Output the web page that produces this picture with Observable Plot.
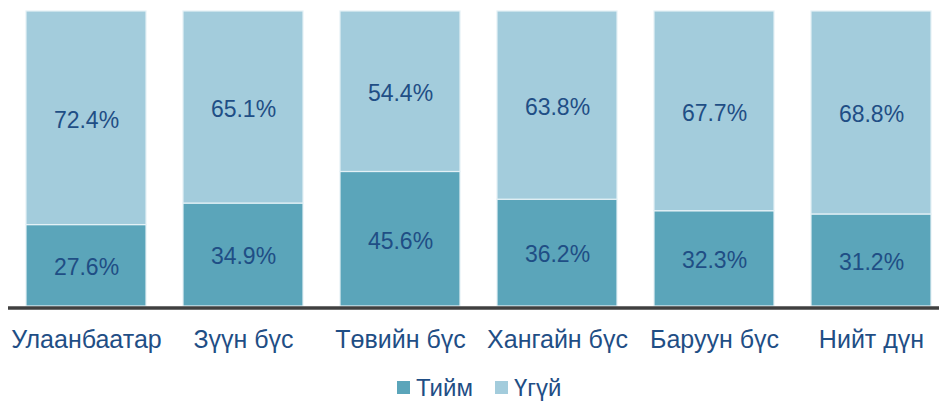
<!DOCTYPE html>
<html>
<head>
<meta charset="utf-8">
<script src="https://cdn.jsdelivr.net/npm/d3@7"></script>
<script src="https://cdn.jsdelivr.net/npm/@observablehq/plot@0.6"></script>
<style>
  html, body { margin: 0; padding: 0; background: #fff; }
  #chart { width: 939px; }
  .legend { display: flex; justify-content: flex-start; align-items: center; height: 41px; margin-top: 7px;
    font-family: "Liberation Sans", Arial, sans-serif; font-size: 24px; color: #1f4e85; padding-left: 397px; }
  .legend span.sw { display: inline-block; width: 13px; height: 13px; margin-right: 6px; }
  .legend .item { display: flex; align-items: center; margin-right: 22px; }
</style>
</head>
<body>
<div id="chart"></div>
<script>
const categories = ["Улаанбаатар", "Зүүн бүс", "Төвийн бүс", "Хангайн бүс", "Баруун бүс", "Нийт дүн"];
const yes = [27.6, 34.9, 45.6, 36.2, 32.3, 31.2];
const no = [72.4, 65.1, 54.4, 63.8, 67.7, 68.8];
const seriesNames = ["Тийм", "Үгүй"];
const colors = ["#5ba5ba", "#a3ccdc"];

const data = [];
categories.forEach((c, i) => {
  data.push({cat: c, series: seriesNames[0], value: yes[i]});
  data.push({cat: c, series: seriesNames[1], value: no[i]});
});

const textColor = "#1f4e85";
const font = "Liberation Sans, Arial, sans-serif";

const chart = Plot.plot({
  width: 939,
  height: 360,
  marginTop: 11,
  marginBottom: 54,
  marginLeft: 8,
  marginRight: 0,
  style: {fontFamily: font, background: "#fff"},
  x: {domain: categories, paddingInner: 0.2357, paddingOuter: 0.0828, align: 0.692, label: null},
  y: {domain: [0, 100], axis: null},
  color: {domain: seriesNames, range: colors},
  marks: [
    Plot.barY(data, Plot.stackY({x: "cat", y: "value", fill: "series", order: seriesNames, stroke: "#e4f1f6", strokeWidth: 1.2})),
    Plot.text(data, Plot.stackY({x: "cat", y: "value", z: "series", order: seriesNames,
      text: d => d.value.toFixed(1) + "%", fill: textColor, fontSize: 23, dy: 2})),
    Plot.ruleY([0], {stroke: "#404040", strokeWidth: 3.5, dy: 1.5}),
    Plot.axisX({tickSize: 0, tickPadding: 24, fontSize: 25, color: textColor, label: null})
  ]
});
document.getElementById("chart").appendChild(chart);

const legend = document.createElement("div");
legend.className = "legend";
seriesNames.forEach((s, i) => {
  const item = document.createElement("div");
  item.className = "item";
  const sw = document.createElement("span");
  sw.className = "sw";
  sw.style.background = colors[i];
  item.appendChild(sw);
  item.appendChild(document.createTextNode(s));
  legend.appendChild(item);
});
document.body.appendChild(legend);
</script>
</body>
</html>
